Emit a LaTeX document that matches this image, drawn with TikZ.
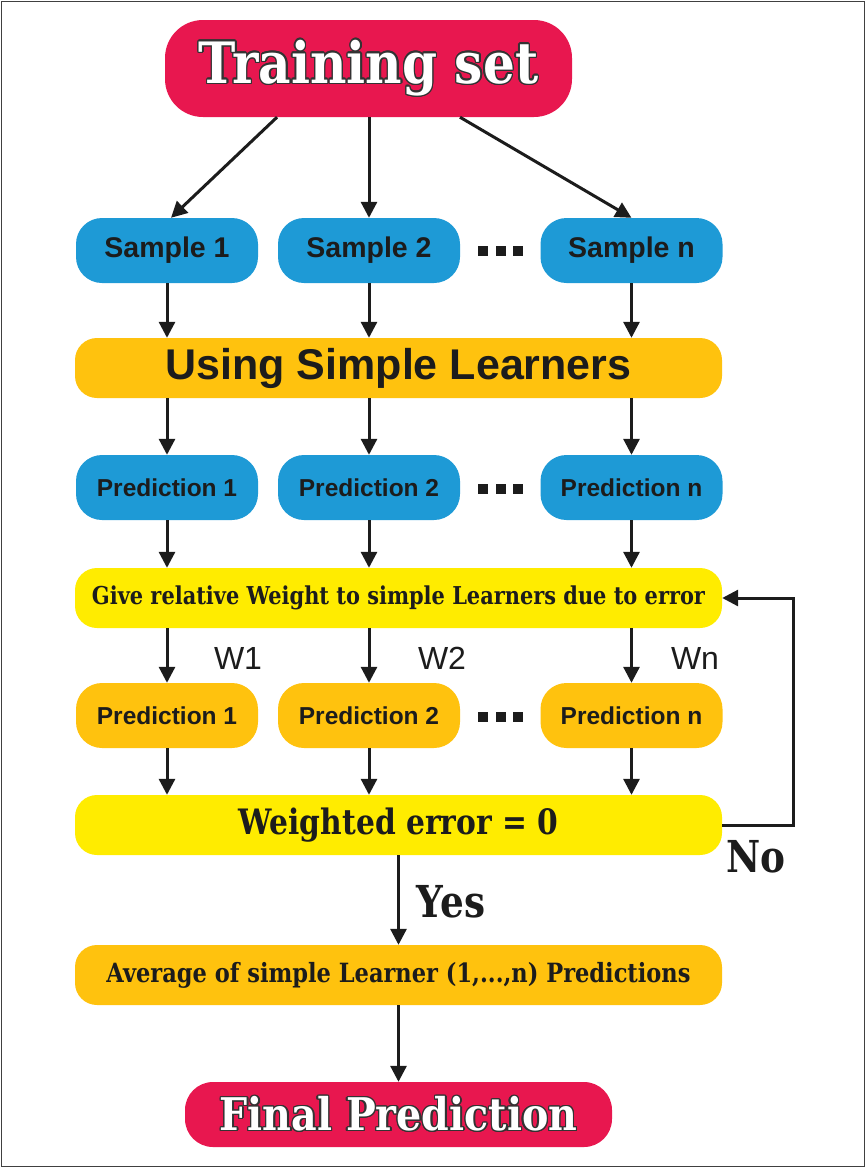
\documentclass[tikz,border=0pt]{standalone}
\usepackage{fontspec}
\usepackage{contour}
\usetikzlibrary{arrows.meta}
\setmainfont{DejaVu Serif}
\newfontfamily\titlefont{DejaVu Serif}[FakeStretch=0.88]
\newfontfamily\condfont{DejaVu Serif}[FakeStretch=0.85]
\newfontfamily\sansfont{Liberation Sans}
\definecolor{tred}{HTML}{E8174F}
\definecolor{tblue}{HTML}{1E9AD6}
\definecolor{torange}{HTML}{FFC20E}
\definecolor{tyellow}{HTML}{FFEC00}
\definecolor{tink}{HTML}{1C1C1C}
\contourlength{1.4pt}
\tikzset{
  arr/.style={line width=3pt, draw=tink, -{Triangle[length=16pt,width=16pt]}},
  redbox/.style={fill=tred, inner sep=0, rounded corners=38,
     font=\titlefont\bfseries\fontsize{57}{57}\selectfont, text=white},
  sbox/.style={fill=tblue, minimum width=182, minimum height=65, inner sep=0,
     rounded corners=26, text=tink, font=\sansfont\bfseries\fontsize{28.5}{28.5}\selectfont},
  pbox/.style={minimum width=182, minimum height=65, inner sep=0,
     rounded corners=26, text=tink, font=\sansfont\bfseries\fontsize{24.5}{24.5}\selectfont},
  bar/.style={minimum width=647, minimum height=60, inner sep=0,
     rounded corners=22, text=tink},
  dotsq/.style={fill=tink, minimum size=10, inner sep=0},
  wlab/.style={text=tink, font=\sansfont\fontsize{32}{32}\selectfont},
  yn/.style={text=tink, font=\condfont\bfseries\fontsize{44}{44}\selectfont}
}
\begin{document}
\begin{tikzpicture}[x=1pt,y=-1pt]
\useasboundingbox (0,0) rectangle (866,1168);
\draw[line width=1.5pt, draw=black!75] (1.5,1.5) rectangle (864.5,1166.5);

\node[redbox, minimum width=407, minimum height=97] (title) at (368.5,68.5)
  {\color{white}\contour{black!80}{Training set}};

\node[sbox] (s1) at (167,250.5) {Sample 1};
\node[sbox] (s2) at (369,250.5) {Sample 2};
\node[sbox] (sn) at (631.5,250.5) {Sample n};
\node[dotsq] (da1) at (483,251) {};
\node[dotsq] (da2) at (500.5,251) {};
\node[dotsq] (da3) at (518,251) {};

\node[bar, fill=torange, font=\sansfont\bfseries\fontsize{43}{43}\selectfont]
  (use) at (398.5,368) {Using Simple Learners};

\node[pbox, fill=tblue] (p1) at (167,487.5) {Prediction 1};
\node[pbox, fill=tblue] (p2) at (369,487.5) {Prediction 2};
\node[pbox, fill=tblue] (pn) at (631.5,487.5) {Prediction n};
\node[dotsq] (db1) at (483,489) {};
\node[dotsq] (db2) at (500.5,489) {};
\node[dotsq] (db3) at (518,489) {};

\node[bar, fill=tyellow, font=\condfont\bfseries\fontsize{24.6}{24.6}\selectfont]
  (give) at (398.5,598) {Give relative Weight to simple Learners due to error};

\node[pbox, fill=torange] (q1) at (167,715.5) {Prediction 1};
\node[pbox, fill=torange] (q2) at (369,715.5) {Prediction 2};
\node[pbox, fill=torange] (qn) at (631.5,715.5) {Prediction n};
\node[dotsq] (dc1) at (483,717) {};
\node[dotsq] (dc2) at (500.5,717) {};
\node[dotsq] (dc3) at (518,717) {};

\node[wlab] (w1) at (238,658) {W1};
\node[wlab] (w2) at (442,658) {W2};
\node[wlab] (wn) at (695,658) {Wn};

\node[bar, fill=tyellow, font=\condfont\bfseries\fontsize{35}{35}\selectfont]
  (werr) at (398.5,825) {Weighted error = 0};

\node[bar, fill=torange, font=\condfont\bfseries\fontsize{26.5}{26.5}\selectfont]
  (avg) at (398.5,975) {Average of simple Learner (1,...,n) Predictions};

\node[redbox, minimum width=427, minimum height=65, rounded corners=28,
  font=\titlefont\bfseries\fontsize{45}{45}\selectfont] (final) at (398.5,1114.5)
  {\color{white}\contour{black!80}{Final Prediction}};

\node[yn] (no) at (756,857) {No};
\node[yn] (yes) at (451,902) {Yes};

% connectors
\draw[arr] ([xshift=-91.5]title.south) -- ([xshift=4]s1.north);
\draw[arr] (title.south -| s2.north) -- (s2.north);
\draw[arr] ([xshift=91.5]title.south) -- (sn.north);

\foreach \a in {s1,s2,sn} \draw[arr] (\a.south) -- (\a.south |- use.north);
\foreach \a in {p1,p2,pn} \draw[arr] (\a.north |- use.south) -- (\a.north);
\foreach \a in {p1,p2,pn} \draw[arr] (\a.south) -- (\a.south |- give.north);
\foreach \a in {q1,q2,qn} \draw[arr] (\a.north |- give.south) -- (\a.north);
\foreach \a in {q1,q2,qn} \draw[arr] (\a.south) -- (\a.south |- werr.north);

\coordinate (fb) at (793,825);
\draw[arr] (werr.east) -- (fb) -- (fb |- give.east) -- (give.east);
\draw[arr] (werr.south) -- (avg.north);
\draw[arr] (avg.south) -- (final.north);
\end{tikzpicture}
\end{document}
